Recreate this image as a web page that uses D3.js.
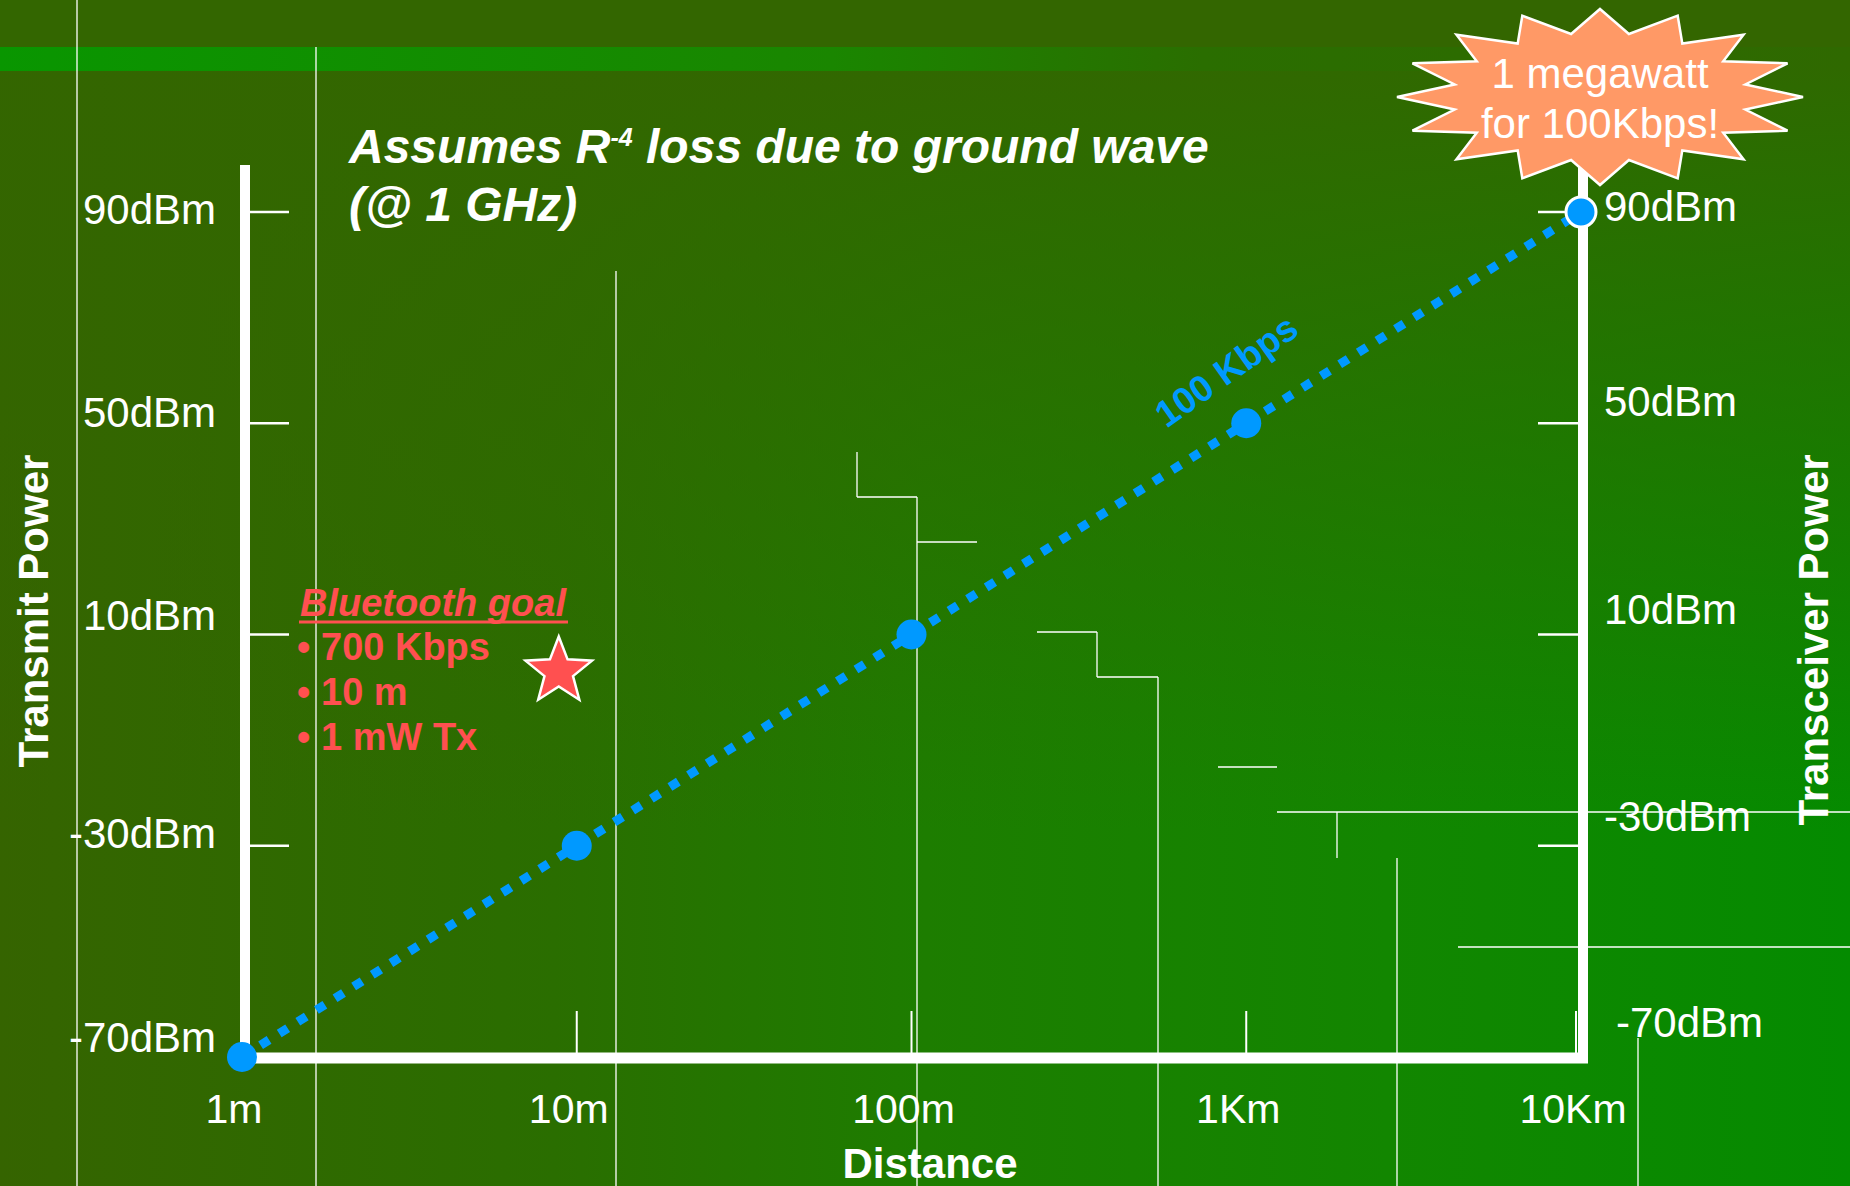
<!DOCTYPE html>
<html>
<head>
<meta charset="utf-8">
<script src="https://cdn.jsdelivr.net/npm/d3@7"></script>
<style>
  html, body { margin: 0; padding: 0; background: #336600; overflow: hidden; }
  svg { display: block; font-family: "Liberation Sans", Arial, sans-serif; }
</style>
</head>
<body>
<svg id="chart" width="1850" height="1186"></svg>
<script>
// chart values
const distances = [1, 10, 100, 1000, 10000];
const distanceLabels = ["1m", "10m", "100m", "1Km", "10Km"];
const powerTicks = [90, 50, 10, -30, -70];
const powerLabels = ["90dBm", "50dBm", "10dBm", "-30dBm", "-70dBm"];
const linePower = [-70, -30, 10, 50, 90]; // 100 Kbps, R^-4 loss
const bluetoothGoal = [{ d: 10, p: 3 }];
const bluetoothLines = ["700 Kbps", "10 m", "1 mW Tx"];
const burstLines = ["1 megawatt", "for 100Kbps!"];

// thin white staircase strokes of the slide template [x1, y1, x2, y2]
const decorLines = [
	[77, 0, 77, 1186], [316, 47, 316, 1186], [616, 271, 616, 1186],
	[857, 452, 857, 497], [857, 497, 917, 497], [917, 497, 917, 1186],
	[917, 542, 977, 542], [1037, 632, 1097, 632], [1097, 632, 1097, 677],
	[1097, 677, 1158, 677], [1158, 677, 1158, 1186], [1218, 767, 1277, 767],
	[1277, 812, 1850, 812], [1337, 812, 1337, 858], [1397, 858, 1397, 1186],
	[1458, 947, 1850, 947], [1638, 1038, 1638, 1186]
];

const W = 1850, H = 1186;
const leftX = 245, rightX = 1583, bottomY = 1058, topY = 165;
const blue = "#0099ff", red = "#ff5050";
// the slide's tick labels are placed by hand, a little off the ticks
const leftNudge = [-3, -11, -19, -12, -20];
const rightNudge = [-6, -22, -25, -29, -35];

const svg = d3.select("#chart");
const defs = svg.append("defs");

const bgGrad = defs.append("linearGradient").attr("id", "bg")
	.attr("x1", 0).attr("y1", 0).attr("x2", 1).attr("y2", 0);
[[0, "#356400"], [0.3, "#2a6e00"], [0.5, "#1d7d00"], [0.75, "#128600"], [1, "#048b00"]]
	.forEach(s => bgGrad.append("stop").attr("offset", s[0]).attr("stop-color", s[1]));

const topShade = defs.append("linearGradient").attr("id", "topShade")
	.attr("x1", 0).attr("y1", 0).attr("x2", 0).attr("y2", 1);
[[0, 1], [0.1, 0.85], [0.35, 0.5], [0.7, 0]]
	.forEach(s => topShade.append("stop").attr("offset", s[0])
		.attr("stop-color", "#336600").attr("stop-opacity", s[1]));

const stripeGrad = defs.append("linearGradient").attr("id", "stripe")
	.attr("x1", 0).attr("y1", 0).attr("x2", 1).attr("y2", 0);
[[0, "#099600"], [0.45, "#1a8600"], [0.65, "#2a6e00"], [1, "#2f6900"]]
	.forEach(s => stripeGrad.append("stop").attr("offset", s[0]).attr("stop-color", s[1]));

svg.append("rect").attr("width", W).attr("height", H).attr("fill", "url(#bg)");
svg.append("rect").attr("width", W).attr("height", H).attr("fill", "url(#topShade)");
svg.append("rect").attr("width", W).attr("height", 47).attr("fill", "#336600");
svg.append("rect").attr("y", 47).attr("width", W).attr("height", 24).attr("fill", "url(#stripe)");

svg.append("g").selectAll("line").data(decorLines).join("line")
	.attr("x1", d => d[0]).attr("y1", d => d[1])
	.attr("x2", d => d[2]).attr("y2", d => d[3])
	.attr("stroke", "#fff").attr("stroke-width", 1.3);

// scales
const x = d3.scaleLog().domain([1, 10000]).range([242, 1581]);
const y = d3.scaleLinear().domain([-70, 90]).range([1057, 212]);

// title
const title = svg.append("text").attr("x", 349).attr("y", 163)
	.attr("fill", "#fff").attr("font-size", 48).attr("font-weight", "bold").attr("font-style", "italic");
title.append("tspan").text("Assumes R");
title.append("tspan").attr("font-size", 25).attr("dy", -17).text("-4");
title.append("tspan").attr("dy", 17).text(" loss due to ground wave");
svg.append("text").attr("x", 349).attr("y", 221)
	.attr("fill", "#fff").attr("font-size", 48).attr("font-weight", "bold").attr("font-style", "italic")
	.text("(@ 1 GHz)");

// axes frame
const axes = svg.append("g").attr("stroke", "#fff");
axes.append("line").attr("x1", leftX).attr("y1", topY).attr("x2", leftX).attr("y2", bottomY + 5).attr("stroke-width", 10);
axes.append("line").attr("x1", leftX - 5).attr("y1", bottomY).attr("x2", rightX + 5).attr("y2", bottomY).attr("stroke-width", 11);
axes.append("line").attr("x1", rightX).attr("y1", 150).attr("x2", rightX).attr("y2", bottomY + 5).attr("stroke-width", 10);

// left ticks and labels
axes.selectAll(".lt").data(powerTicks.slice(0, 4)).join("line").attr("class", "lt")
	.attr("x1", leftX + 5).attr("x2", leftX + 44)
	.attr("y1", d => y(d)).attr("y2", d => y(d)).attr("stroke-width", 2.5);
svg.append("g").selectAll("text").data(powerTicks).join("text")
	.attr("x", 216).attr("y", (d, i) => y(d) + leftNudge[i])
	.attr("text-anchor", "end").attr("fill", "#fff").attr("font-size", 42)
	.attr("dy", "0.35em").text((d, i) => powerLabels[i]);

// right ticks and labels
axes.selectAll(".rt").data(powerTicks.slice(0, 4)).join("line").attr("class", "rt")
	.attr("x1", rightX - 45).attr("x2", rightX - 5)
	.attr("y1", d => y(d)).attr("y2", d => y(d)).attr("stroke-width", 2.5);
svg.append("g").selectAll("text").data(powerTicks).join("text")
	.attr("x", (d, i) => 1604 + (i === 4 ? 12 : 0)).attr("y", (d, i) => y(d) + rightNudge[i])
	.attr("fill", "#fff").attr("font-size", 42)
	.attr("dy", "0.35em").text((d, i) => powerLabels[i]);

// bottom ticks and labels
axes.selectAll(".bt").data(distances.slice(1)).join("line").attr("class", "bt")
	.attr("x1", d => Math.min(x(d), rightX - 7)).attr("x2", d => Math.min(x(d), rightX - 7))
	.attr("y1", 1011).attr("y2", bottomY - 5).attr("stroke-width", 2);
svg.append("g").selectAll("text").data(distances).join("text")
	.attr("x", d => x(d) - 8).attr("y", 1123)
	.attr("text-anchor", "middle").attr("fill", "#fff").attr("font-size", 41)
	.text((d, i) => distanceLabels[i]);

// axis titles
svg.append("text").attr("x", 930).attr("y", 1178).attr("text-anchor", "middle")
	.attr("fill", "#fff").attr("font-size", 42).attr("font-weight", "bold").text("Distance");
svg.append("text").attr("transform", "translate(48,611) rotate(-90)").attr("text-anchor", "middle")
	.attr("fill", "#fff").attr("font-size", 42).attr("font-weight", "bold").text("Transmit Power");
svg.append("text").attr("transform", "translate(1828,640) rotate(-90)").attr("text-anchor", "middle")
	.attr("fill", "#fff").attr("font-size", 42).attr("font-weight", "bold").text("Transceiver Power");

// 100 Kbps line
const pts = distances.map((d, i) => ({ d: d, p: linePower[i] }));
svg.append("path").datum(pts)
	.attr("d", d3.line().x(d => x(d.d)).y(d => y(d.p)))
	.attr("fill", "none").attr("stroke", blue).attr("stroke-width", 9).attr("stroke-dasharray", "10 12");
svg.append("g").selectAll("circle").data(pts).join("circle")
	.attr("cx", d => x(d.d)).attr("cy", d => y(d.p)).attr("r", 15)
	.attr("fill", blue)
	.attr("stroke", (d, i) => i === pts.length - 1 ? "#fff" : "none").attr("stroke-width", 3);

const angle = Math.atan2(y(90) - y(-70), x(10000) - x(1)) * 180 / Math.PI;
const lblD = 850, lblP = 10 + 40 * Math.log10(lblD / 100);
svg.append("text")
	.attr("transform", `translate(${x(lblD) + 11},${y(lblP) - 57}) rotate(${angle - 3})`)
	.attr("text-anchor", "middle").attr("fill", blue).attr("font-size", 37).attr("font-weight", "bold")
	.text("100 Kbps");

// Bluetooth goal
const bt = svg.append("g").attr("fill", red).attr("font-weight", "bold").attr("font-size", 38);
bt.append("text").attr("x", 300).attr("y", 616).attr("font-style", "italic").text("Bluetooth goal");
bt.append("line").attr("x1", 299).attr("x2", 568).attr("y1", 622).attr("y2", 622)
	.attr("stroke", red).attr("stroke-width", 3);
bt.selectAll(".bb").data(bluetoothLines).join("text").attr("class", "bb")
	.attr("x", 297).attr("y", (d, i) => 660 + i * 45).text("\u2022");
bt.selectAll(".bl").data(bluetoothLines).join("text").attr("class", "bl")
	.attr("x", 321).attr("y", (d, i) => 660 + i * 45).text(d => d);

const starPts = d3.range(10).map(i => {
	const a = -Math.PI / 2 + i * Math.PI / 5;
	const r = i % 2 === 0 ? 35 : 15;
	return [r * Math.cos(a), r * Math.sin(a)];
});
svg.append("g").selectAll("polygon").data(bluetoothGoal).join("polygon")
	.attr("transform", d => `translate(${x(d.d) - 18},${y(d.p)})`)
	.attr("points", starPts.map(p => p.join(",")).join(" "))
	.attr("fill", red).attr("stroke", "#fff").attr("stroke-width", 2.5);

// 1 megawatt burst
const bcx = 1600, bcy = 97, brx = 203, bry = 88;
const burstPts = d3.range(32).map(i => {
	const a = -Math.PI / 2 + i * Math.PI / 16;
	const r = i % 2 === 0 ? 1 : 0.73;
	return [bcx + brx * r * Math.cos(a), bcy + bry * r * Math.sin(a)];
});
svg.append("polygon").attr("points", burstPts.map(p => p.join(",")).join(" "))
	.attr("fill", "#ff9966").attr("stroke", "#fff").attr("stroke-width", 2.5);
svg.append("g").selectAll("text").data(burstLines).join("text")
	.attr("x", bcx).attr("y", (d, i) => 88 + i * 50)
	.attr("text-anchor", "middle").attr("fill", "#fff").attr("font-size", 42)
	.text(d => d);
</script>
</body>
</html>
